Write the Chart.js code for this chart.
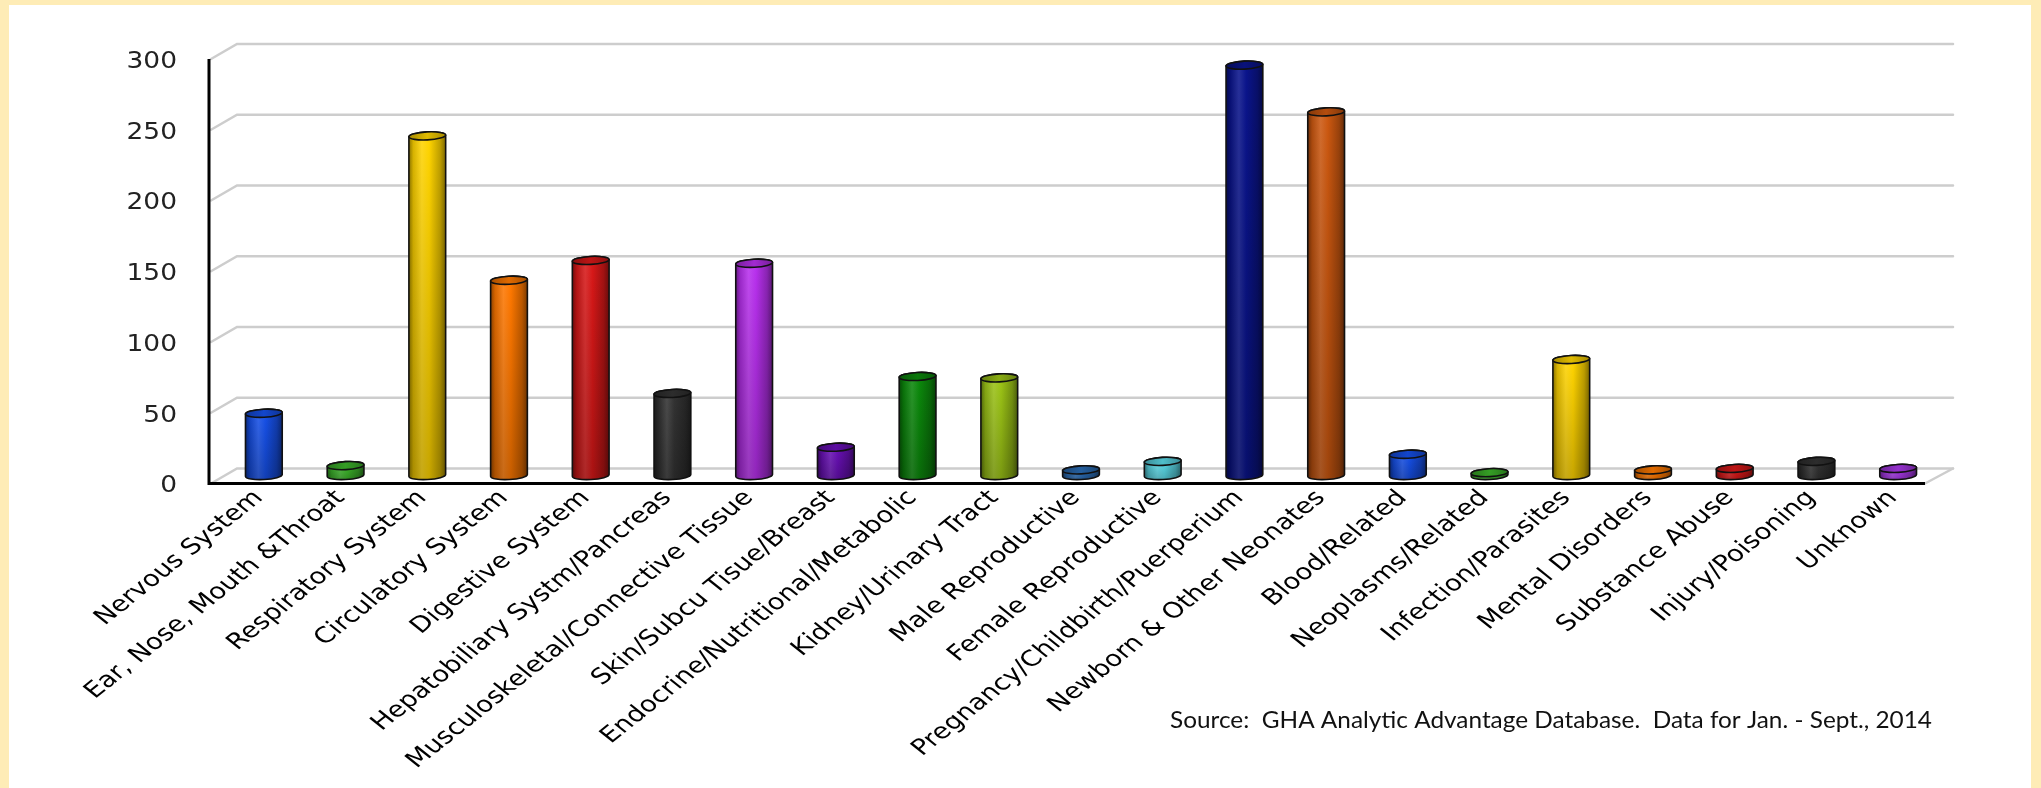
<!DOCTYPE html>
<html>
<head>
<meta charset="utf-8">
<title>Admissions by Major Diagnostic Category</title>
<script src="https://cdn.jsdelivr.net/npm/chart.js@4.4.1/dist/chart.umd.min.js"></script>
<style>
  html, body { margin: 0; padding: 0; background: #ffffff; }
  #wrap { width: 2041px; height: 788px; position: relative; }
  canvas { display: block; }
</style>
</head>
<body>
<div id="wrap"><canvas id="chart" width="2041" height="788"></canvas></div>
<script>
// Diagnostic categories along the x axis
const categories = [
  'Nervous System', 'Ear, Nose, Mouth &Throat', 'Respiratory System', 'Circulatory System',
  'Digestive System', 'Hepatobiliary Systm/Pancreas', 'Musculoskeletal/Connective Tissue',
  'Skin/Subcu Tisue/Breast', 'Endocrine/Nutritional/Metabolic', 'Kidney/Urinary Tract',
  'Male Reproductive', 'Female Reproductive', 'Pregnancy/Childbirth/Puerperium',
  'Newborn & Other Neonates', 'Blood/Related', 'Neoplasms/Related', 'Infection/Parasites',
  'Mental Disorders', 'Substance Abuse', 'Injury/Poisoning', 'Unknown'
];

// Case counts per category
const caseCounts = [44, 7, 240, 138, 152, 58, 150, 20, 70, 69, 4, 10, 290, 257, 15, 2, 82, 4, 5, 10, 5];

// Cylinder colours, one per category
const barColors = [
  '#1650e8', '#3cb42a', '#ffd400', '#ff7800', '#d81818', '#333333', '#b830ee',
  '#6a10b8', '#0c8a0c', '#9cc416', '#2a6cb4', '#5ad8e6', '#0a148c', '#cc5810',
  '#1650e8', '#3cb42a', '#ffd400', '#ff7800', '#d81818', '#333333', '#a838e8'
];

// Value axis
const yMin = 0;
const yMax = 300;
const yStep = 50;

const sourceNote = 'Source:  GHA Analytic Advantage Database.  Data for Jan. - Sept., 2014';

// Depth of the pseudo-3D floor (back wall offset from the front plane)
const DEPTH_X = 28;
const DEPTH_Y = -15;

// Axis text: widened horizontally, category labels at 45 degrees
const LABEL_STRETCH = 1.25;
const LABEL_ANGLE = Math.PI / 4;
const LABEL_FONT = '22px "DejaVu Sans"';
const VALUE_STRETCH = 1.15;
const VALUE_FONT = '23px "DejaVu Sans"';

function shade(hex, amt) {
  const n = parseInt(hex.slice(1), 16);
  let r = (n >> 16) & 255, g = (n >> 8) & 255, b = n & 255;
  const t = amt < 0 ? 0 : 255;
  const p = Math.abs(amt);
  r = Math.round(r + (t - r) * p);
  g = Math.round(g + (t - g) * p);
  b = Math.round(b + (t - b) * p);
  return 'rgb(' + r + ',' + g + ',' + b + ')';
}

function drawCylinder(ctx, cx, top, bot, rx, ry, color) {
  const tilt = -0.05;
  // body
  ctx.beginPath();
  ctx.moveTo(cx - rx, top);
  ctx.lineTo(cx - rx, bot);
  ctx.ellipse(cx, bot, rx, ry, tilt, Math.PI, 0, true);
  ctx.lineTo(cx + rx, top);
  ctx.ellipse(cx, top, rx, ry, tilt, 0, Math.PI, true);
  ctx.closePath();
  const g = ctx.createLinearGradient(cx - rx, 0, cx + rx, 0);
  g.addColorStop(0, shade(color, -0.45));
  g.addColorStop(0.12, shade(color, -0.15));
  g.addColorStop(0.35, shade(color, 0.12));
  g.addColorStop(0.55, color);
  g.addColorStop(0.85, shade(color, -0.25));
  g.addColorStop(1, shade(color, -0.5));
  ctx.fillStyle = g;
  ctx.fill();
  const v = ctx.createLinearGradient(0, top, 0, bot + ry);
  v.addColorStop(0, 'rgba(0,0,0,0)');
  v.addColorStop(1, 'rgba(0,0,0,0.22)');
  ctx.fillStyle = v;
  ctx.fill();
  ctx.lineWidth = 1.6;
  ctx.strokeStyle = '#111111';
  ctx.stroke();
  // top face
  ctx.beginPath();
  ctx.ellipse(cx, top, rx, ry, tilt, 0, Math.PI * 2);
  const tg = ctx.createLinearGradient(cx - rx, 0, cx + rx, 0);
  tg.addColorStop(0, shade(color, -0.35));
  tg.addColorStop(0.5, shade(color, -0.12));
  tg.addColorStop(1, shade(color, -0.35));
  ctx.fillStyle = tg;
  ctx.fill();
  ctx.stroke();
}

const frame3d = {
  id: 'frame3d',
  beforeDraw(chart) {
    const ctx = chart.ctx;
    ctx.save();
    ctx.fillStyle = '#feecb6';
    ctx.fillRect(0, 0, chart.width, chart.height);
    ctx.fillStyle = '#ffffff';
    ctx.fillRect(9, 5, chart.width - 19, chart.height - 5);
    ctx.restore();
  },
  beforeDatasetsDraw(chart) {
    const ctx = chart.ctx;
    const y = chart.scales.y;
    const a = chart.chartArea;
    ctx.save();
    ctx.lineCap = 'round';
    // back wall grid lines with their return to the value axis
    ctx.strokeStyle = '#cdcdcd';
    ctx.lineWidth = 2.5;
    y.ticks.forEach((t, i) => {
      const py = y.getPixelForTick(i);
      ctx.beginPath();
      ctx.moveTo(a.left + 2, py);
      ctx.lineTo(a.left + DEPTH_X, py + DEPTH_Y);
      ctx.lineTo(a.right + DEPTH_X, py + DEPTH_Y);
      ctx.stroke();
    });
    // right edge of the floor
    ctx.beginPath();
    ctx.moveTo(a.right, a.bottom);
    ctx.lineTo(a.right + DEPTH_X, a.bottom + DEPTH_Y);
    ctx.stroke();
    // front axes
    ctx.strokeStyle = '#000000';
    ctx.lineWidth = 3;
    ctx.lineCap = 'butt';
    ctx.beginPath();
    ctx.moveTo(a.left, a.top);
    ctx.lineTo(a.left, a.bottom);
    ctx.lineTo(a.right, a.bottom);
    ctx.stroke();
    ctx.restore();
  },
  afterDatasetsDraw(chart) {
    const ctx = chart.ctx;
    const meta = chart.getDatasetMeta(0);
    ctx.save();
    meta.data.forEach((bar, i) => {
      const p = bar.getProps(['x', 'y', 'base', 'width'], true);
      const cx = p.x + DEPTH_X / 2;
      const top = p.y + DEPTH_Y / 2 - 0.5;
      const bot = p.base + DEPTH_Y / 2 - 0.5;
      drawCylinder(ctx, cx, top, bot, p.width / 2, 4, barColors[i]);
    });
    ctx.restore();
  },
  afterDraw(chart) {
    const ctx = chart.ctx;
    const xs = chart.scales.x;
    const ys = chart.scales.y;
    const a = chart.chartArea;
    // value labels left of the axis
    ctx.save();
    ctx.font = VALUE_FONT;
    ctx.fillStyle = '#222222';
    ctx.textAlign = 'right';
    ctx.textBaseline = 'middle';
    ys.ticks.forEach((t, i) => {
      ctx.save();
      ctx.translate(a.left - 32, ys.getPixelForTick(i) + 3);
      ctx.scale(VALUE_STRETCH, 1);
      ctx.fillText(String(t.value), 0, 0);
      ctx.restore();
    });
    ctx.restore();
    // category labels under the floor
    ctx.save();
    ctx.font = LABEL_FONT;
    ctx.fillStyle = '#000000';
    ctx.textAlign = 'right';
    ctx.textBaseline = 'middle';
    categories.forEach((label, i) => {
      const x = xs.getPixelForTick(i);
      ctx.save();
      ctx.translate(x + 9, a.bottom + 11);
      ctx.scale(LABEL_STRETCH, 1);
      ctx.rotate(-LABEL_ANGLE);
      ctx.fillText(label, 0, 0);
      ctx.restore();
    });
    ctx.restore();
    // source note
    ctx.save();
    ctx.font = '24px Lato';
    ctx.fillStyle = '#111111';
    ctx.textBaseline = 'alphabetic';
    const w = ctx.measureText(sourceNote).width;
    const left = 1170, right = 1932;
    ctx.translate(left, 728);
    ctx.scale((right - left) / w, 1);
    ctx.fillText(sourceNote, 0, 0);
    ctx.restore();
  }
};

new Chart(document.getElementById('chart'), {
  type: 'bar',
  data: {
    labels: categories,
    datasets: [{
      data: caseCounts,
      backgroundColor: 'rgba(0,0,0,0)',
      borderWidth: 0,
      barPercentage: 0.45,
      categoryPercentage: 1.0
    }]
  },
  options: {
    responsive: false,
    devicePixelRatio: 1,
    animation: false,
    layout: { autoPadding: false, padding: { left: 0, top: 59, right: 116, bottom: 0 } },
    plugins: { legend: { display: false }, tooltip: { enabled: false } },
    scales: {
      x: {
        grid: { display: false },
        border: { display: false },
        ticks: { display: false, autoSkip: false },
        afterFit(scale) { scale.height = 788 - 483.5; }
      },
      y: {
        min: yMin,
        max: yMax,
        grid: { display: false, drawTicks: false },
        border: { display: false },
        ticks: { display: false, stepSize: yStep },
        afterFit(scale) { scale.width = 209; }
      }
    }
  },
  plugins: [frame3d]
});
</script>
</body>
</html>
